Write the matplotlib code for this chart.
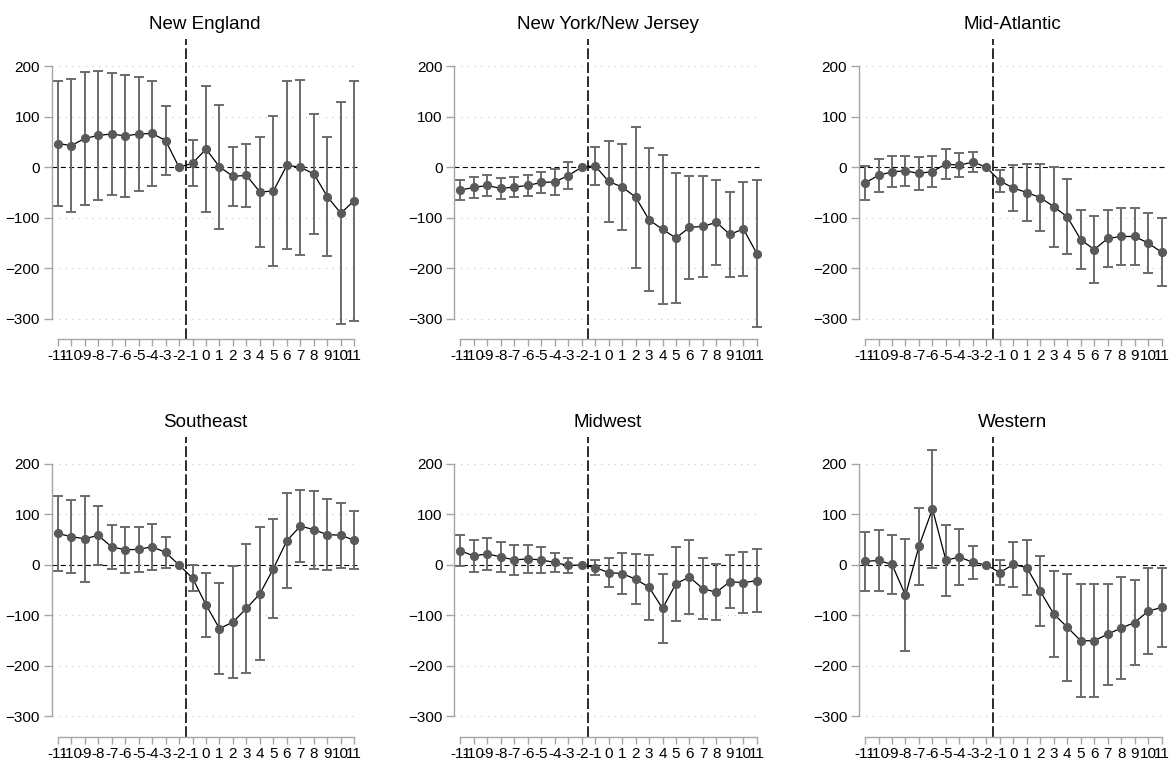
import numpy as np
import matplotlib.pyplot as plt

plt.rcParams['font.family'] = ['Liberation Sans', 'DejaVu Sans']

periods = list(range(-11, 12))
tick_labels = [str(p) for p in periods]
ref_period = -2          # omitted period, no interval drawn
treat_line = -1.5

regions = ['New England', 'New York/New Jersey', 'Mid-Atlantic',
           'Southeast', 'Midwest', 'Western']

# point estimates and 95% CI half-widths, periods -11..11
new_england = [47, 43, 57, 63, 66, 62, 66, 67, 53, 0, 8, 36,
               1, -18, -16, -49, -47, 4, 0, -13, -58, -91, -66]
new_england_ci = [124.5, 131, 132, 127.5, 121.5, 120, 112.5, 103.5, 68, 0, 45.5, 124.5,
                  123, 59, 63, 109.5, 149, 166, 173, 119, 118, 220, 237.5]

ny_nj = [-45, -40, -36, -42, -39, -36, -30, -29, -16.5, 0, 3, -28,
         -39, -59, -104, -123, -140, -119, -117, -109, -133, -122, -171]
ny_nj_ci = [20.5, 21, 20.5, 20, 19.5, 20.5, 20, 26.5, 26.5, 0, 38, 80,
            85, 139.5, 141.5, 147, 129, 102, 100.5, 83.5, 83.5, 92.5, 145]

mid_atlantic = [-31, -16, -9, -7, -12, -8.5, 6.5, 4, 10.5, 0, -27, -41,
                -50, -60, -78, -98, -143, -163, -141, -137, -137, -150, -168]
mid_atlantic_ci = [33, 32, 31, 30, 33, 30, 30, 24, 20, 0, 21, 46,
                   57, 66, 79, 74, 59, 67, 57, 57, 57, 60, 67]

southeast = [62.5, 56, 52, 58.5, 36, 30, 31, 36, 25, 0, -26, -79,
             -126, -113, -86, -57, -7, 48, 77, 70, 60, 59, 49]
southeast_ci = [74, 72, 85, 58, 43, 45, 44, 45, 30, 0, 26, 64,
                90, 110, 127, 132, 98, 94, 71, 77, 70, 64, 57]

midwest = [28, 18, 22, 16, 10, 12, 10, 5, -1, 0, -5, -15,
           -17, -28, -44, -86, -37, -24, -47, -54, -33, -35, -31]
midwest_ci = [31, 31, 31, 30, 29, 28, 25, 19, 14, 0, 14, 29,
              41, 49, 64, 68, 73, 73, 60, 55, 52, 60, 62]

western = [7, 9, 1, -60, 37, 111, 9, 16, 5, 0, -15, 1,
           -5, -52, -97, -123, -150, -150, -137, -125, -114, -91.5, -84]
western_ci = [59, 60, 58, 111, 76, 117, 71, 56, 32, 0, 25, 45,
              55, 69, 86, 106, 112, 112, 100, 101, 84, 85, 79]

estimates = [new_england, ny_nj, mid_atlantic, southeast, midwest, western]
intervals = [new_england_ci, ny_nj_ci, mid_atlantic_ci, southeast_ci, midwest_ci, western_ci]

W, H = 1170, 763
fig = plt.figure(figsize=(W / 100, H / 100), dpi=100)

col_left = [51.7, 454.3, 859.0]
row_bottom = [339.0, 736.7]
ax_w, ax_h = 306.6, 300.0

spine_col = '#a6a6a6'
for i, name in enumerate(regions):
    r, c = divmod(i, 3)
    rect = [col_left[c] / W, 1 - row_bottom[r] / H, ax_w / W, ax_h / H]
    ax = fig.add_axes(rect)

    est = np.array(estimates[i], dtype=float)
    ci = np.array(intervals[i], dtype=float)
    x = np.array(periods)
    has_ci = ci > 0

    for gy in [-300, -200, -100, 100, 200]:
        ax.axhline(gy, color='#c4c4c4', lw=0.8, ls=(0, (1, 5)), zorder=0)
    ax.axhline(0, color='black', lw=0.8, ls=(0, (4.5, 3)), zorder=1)
    ax.axvline(treat_line, color='#2b2b2b', lw=1.4, ls=(0, (5.5, 1.7)), zorder=1)

    ax.errorbar(x[has_ci], est[has_ci], yerr=ci[has_ci], fmt='none',
                ecolor='#6b6b6b', elinewidth=1.4, capsize=3.3, capthick=1.4, zorder=2)
    ax.plot(x, est, color='black', lw=0.9, zorder=3)
    ax.plot(x, est, 'o', ms=5.6, color='#595959', mec='#595959', zorder=4)

    ax.set_xlim(-11.45, 11.3)
    ax.set_ylim(-340, 254)
    ax.set_xticks(periods)
    ax.set_xticklabels(tick_labels)
    ax.set_yticks([-300, -200, -100, 0, 100, 200])

    for s in ['top', 'right']:
        ax.spines[s].set_visible(False)
    ax.spines['left'].set_bounds(-300, 200)
    ax.spines['bottom'].set_bounds(-11, 11)
    for s in ['left', 'bottom']:
        ax.spines[s].set_color(spine_col)
        ax.spines[s].set_linewidth(1.0)

    ax.tick_params(axis='y', length=6, width=1.0, color=spine_col, pad=2.5, labelsize=11)
    ax.tick_params(axis='x', length=5, width=1.0, color=spine_col, pad=2.5, labelsize=11)
    ax.set_title(name, fontsize=13.5, pad=7)

fig.savefig('out.png', dpi=100, facecolor='white')
